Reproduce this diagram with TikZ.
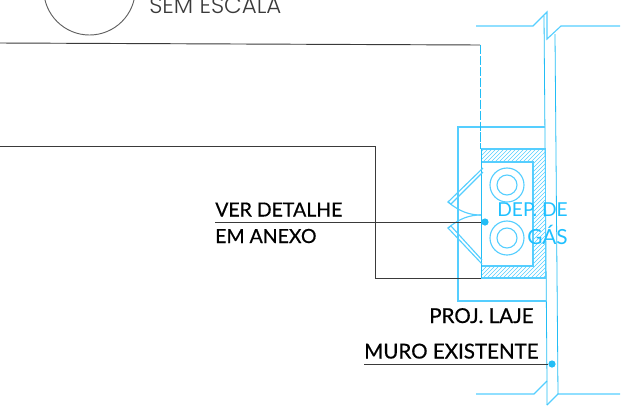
\documentclass[tikz,border=0pt]{standalone}
\usepackage{fontspec}
\setmainfont[FakeBold=0.5]{Lato}
\newfontfamily\plainfont{Lato}
\newfontfamily\thinfont{Poppins Light}
\definecolor{cyanline}{HTML}{55CEFF}
\definecolor{cyandark}{HTML}{22BDF5}
\definecolor{cyantext}{HTML}{1FC0FF}
\definecolor{inkline}{HTML}{3A3A3A}
\tikzset{
  wall/.style={draw=cyanline,line width=0.85pt},
  wallthin/.style={draw=cyandark,line width=0.6pt},
  leader/.style={draw=inkline,line width=0.7pt},
  dotnode/.style={circle,fill=cyandark,inner sep=0pt,minimum size=5.4pt},
  lbl/.style={anchor=base west,inner sep=0pt,text=black},
  lblA/.style={lbl,font=\fontsize{14.6}{15}\selectfont},
  lblB/.style={lbl,font=\fontsize{15.4}{16}\selectfont},
  gaslbl/.style={anchor=base east,inner sep=0pt,text=cyantext,font=\plainfont\fontsize{14.4}{15}\selectfont},
  gaslblw/.style={gaslbl,font=\plainfont\fontsize{15.6}{16}\selectfont},
}
\begin{document}
\begin{tikzpicture}[x=0.75pt,y=-0.75pt]
\useasboundingbox (0,0) rectangle (637,405);
\begin{scope}
\clip (0,0) rectangle (637,405);
% north arrow circle and scale note
\draw[draw=inkline!80,line width=0.7pt] (89.5,-10.8) circle (45.8);
\node[anchor=base west,inner sep=0pt,text=inkline,font=\thinfont\fontsize{17.2}{17}\selectfont] (scale) at (149,13) {SEM ESCALA};
% wall with break lines
\draw[wall] (476,26) -- (533,26) -- (547,12) -- (547,39) -- (561,26) -- (620,26);
\draw[wall] (476,394) -- (534,394) -- (547,381);
\draw[wall] (547,405) -- (558,394) -- (620,394);
\draw[wallthin] (544,16) -- (547,381) (547,381) -- (547,405);
\draw[wallthin] (555,34) -- (558,394);
% slab projection
\draw[wall] (545,127) -- (458,127) -- (458,301) -- (546,301);
% hatched walls
\begin{scope}
\clip (481,149) rectangle (545.5,162) (533,162) rectangle (545.5,266) (481,266) rectangle (545.5,278);
\foreach \k in {0,4,...,200}{
  \draw[cyanline,line width=0.5pt] (480,149+\k) -- (550,149+\k-70);
}
\end{scope}
\draw[wall] (481,149) -- (545.5,149) -- (545.5,278) -- (481,278);
\draw[wall] (481,162) -- (533,162) -- (533,266) -- (481,266);
\draw[wallthin] (481,149) -- (481,278);
% gas cylinders
\draw[wall] (507,185) circle (17) (507,185) circle (10);
\draw[wall] (507,238) circle (17) (507,238) circle (10);
% doors
\draw[wall] (483,168) -- (448,202) -- (451,204) -- (483,172);
\draw[wall] (448,202) .. controls (460,212) and (470,215) .. (481,215);
\draw[wall] (482,264) -- (448,228) -- (451,226) -- (482,260);
\draw[wall] (448,228) .. controls (460,218) and (470,215) .. (481,215);
% dashed line above
\draw[cyandark,line width=0.75pt,dash pattern=on 7pt off 1.2pt] (480,45) -- (480,149);
% gas labels
\node[gaslbl] (dep) at (568,216) {DEP. DE};
\node[gaslblw] (gas) at (568,244) {GÁS};
% black lines
\coordinate (a1) at (0,43);
\coordinate (a2) at (480,45);
\draw[leader] (a1) -- (a2);
\coordinate (b1) at (0,146);
\coordinate (b2) at (375,146);
\coordinate (b3) at (375,278);
\coordinate (b4) at (481,278);
\draw[leader] (b1) -- (b2) -- (b3) -- (b4);
% leaders and text
\node[dotnode] (d1) at (485,222) {};
\node[dotnode] (d2) at (552,364) {};
\coordinate (l1) at (215,222);
\coordinate (l2) at (364,364);
\draw[leader] (l1) -- (d1);
\draw[leader] (l2) -- (d2);
\node[lblA] (t1) at (215,216.5) {VER DETALHE};
\node[lblA] (t2) at (215,243) {EM ANEXO};
\node[lblB] (t3) at (429,323) {PROJ. LAJE};
\node[lblB] (t4) at (364,358.5) {MURO EXISTENTE};
\end{scope}
\end{tikzpicture}
\end{document}
